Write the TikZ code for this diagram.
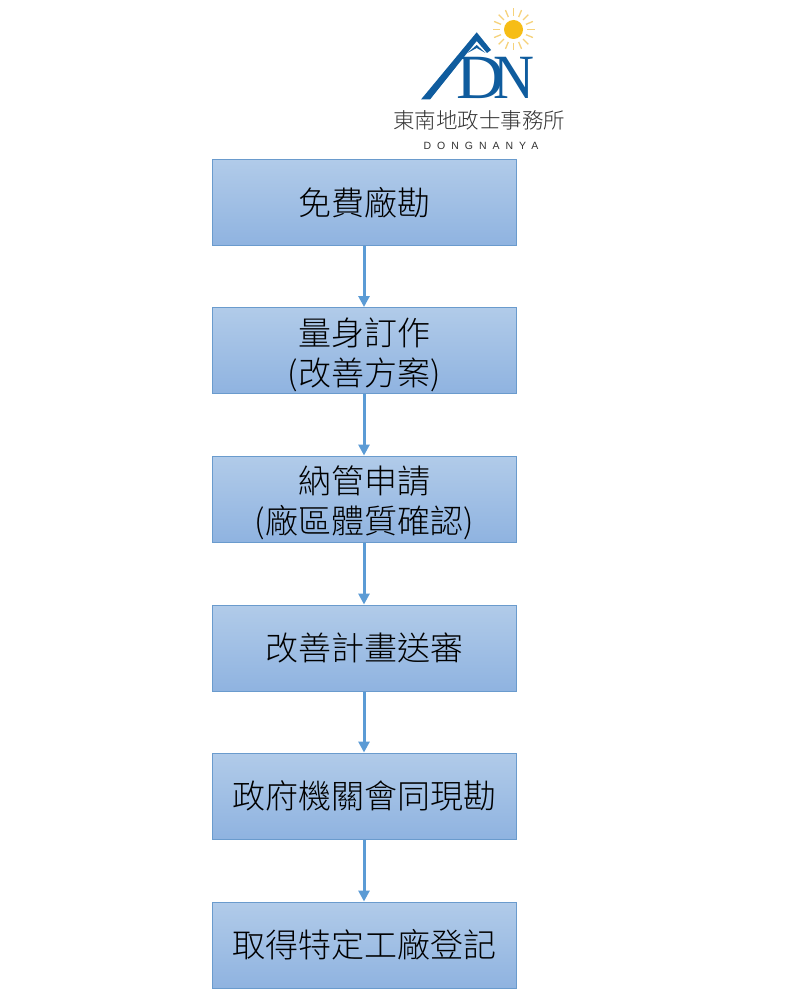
\documentclass[tikz,border=0pt]{standalone}
\usepackage{fontspec}
\setmainfont{Noto Sans CJK TC Light}
\newfontfamily\logoserif{Liberation Serif}
\newfontfamily\logosans[LetterSpace=57]{Liberation Sans}
\usetikzlibrary{arrows.meta}
\definecolor{boxtop}{HTML}{B1CBE9}
\definecolor{boxbottom}{HTML}{8FB3E0}
\definecolor{boxedge}{HTML}{6A9BCD}
\definecolor{arrowblue}{HTML}{5B9BD5}
\definecolor{logoblue}{HTML}{0F5C9E}
\definecolor{sun}{HTML}{F6BD16}
\definecolor{raysun}{HTML}{F6D27A}
\newcommand{\droptext}{\rule{0pt}{36pt}}
\tikzset{
  flowbox/.style={draw=boxedge,line width=1pt,top color=boxtop,bottom color=boxbottom,
    minimum width=304pt,minimum height=86pt,inner sep=0pt,align=center,text=black,
    font=\fontsize{33}{40}\selectfont},
  flowarrow/.style={draw=arrowblue,line width=3pt,-{Triangle[length=11pt,width=11pt,fill=arrowblue]}},
  logotext/.style={inner sep=0pt,text=black!80},
  logoletter/.style={inner sep=0pt,text=logoblue,font=\fontsize{63}{63}\selectfont\logoserif},
  ray/.style={draw=raysun,line width=1.3pt}
}
\begin{document}
\begin{tikzpicture}[x=1pt,y=-1pt]
\useasboundingbox (0,0) rectangle (800,1000);
\fill[white] (0,0) rectangle (800,1000);
% boxes
\node[flowbox] (b1) at (364,202.5) {免費廠勘};
\node[flowbox] (b2) at (364,350.5) {\droptext 量身訂作\\(改善方案)};
\node[flowbox] (b3) at (364,499) {\droptext 納管申請\\(廠區體質確認)};
\node[flowbox] (b4) at (364,648) {改善計畫送審};
\node[flowbox] (b5) at (364,796) {政府機關會同現勘};
\node[flowbox] (b6) at (364,945) {取得特定工廠登記};
\draw[flowarrow] (b1.south) -- (b2.north);
\draw[flowarrow] (b2.south) -- (b3.north);
\draw[flowarrow] (b3.south) -- (b4.north);
\draw[flowarrow] (b4.south) -- (b5.north);
\draw[flowarrow] (b5.south) -- (b6.north);
% logo letters
\node[logoletter,anchor=base,xscale=1.05] (ld) at (480.5,99) {D};
\node[logoletter,anchor=base,xscale=.9] (ln) at (513.5,99) {N};
% roof
\fill[logoblue] (476.7,32.3) -- (421,99.5) -- (430,99.5) -- (476.7,41) -- (487,53) -- (491,50) -- cycle;
\fill[logoblue] (476.7,45) -- (467.5,53) -- (476.7,48) -- (485.5,53) -- cycle;
% sun
\fill[sun] (513.5,29.5) circle (9.5);
\foreach \a in {0,22.5,...,337.5}
  \draw[ray] ([shift={(\a:13.5)}]513.5,29.5) -- ([shift={(\a:21)}]513.5,29.5);
% logo text
\node[logotext,font=\fontsize{21.5}{24}\selectfont] (lt) at (479,120.5) {東南地政士事務所};
\node[logotext,font=\fontsize{10.5}{12}\selectfont\logosans] (lo) at (481,145.5) {DONGNANYA};
\end{tikzpicture}
\end{document}
